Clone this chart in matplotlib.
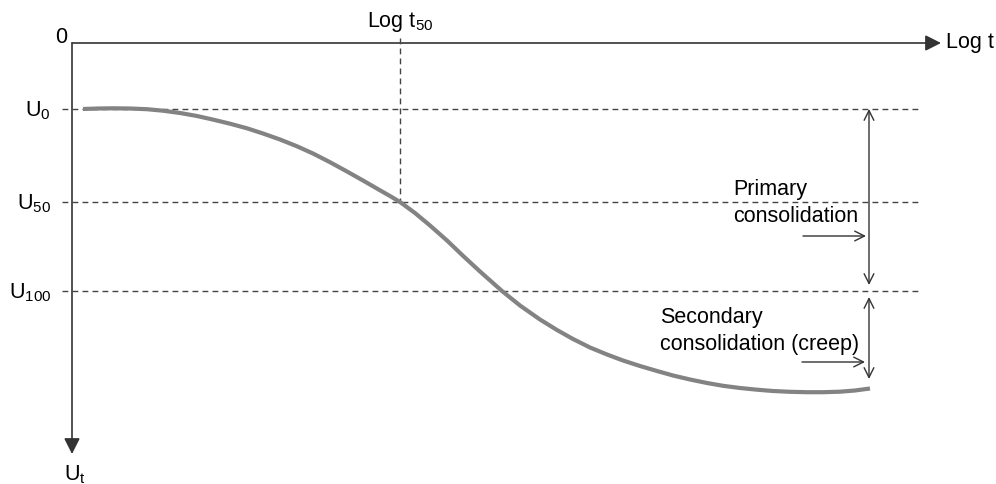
import matplotlib
matplotlib.use("Agg")
import matplotlib.pyplot as plt
from matplotlib.patches import FancyArrowPatch

plt.rcParams["font.family"] = ["Liberation Sans", "DejaVu Sans"]
plt.rcParams["mathtext.fontset"] = "custom"
plt.rcParams["mathtext.rm"] = "Liberation Sans"
plt.rcParams["mathtext.it"] = "Liberation Sans"

# Diagram coordinates: log t to the right, settlement U downward from the origin
log_t = [11, 26, 41, 58, 75, 91, 108, 125, 141, 158, 175, 191, 208, 225, 241,
         258, 275, 291, 308, 318, 328, 343, 358, 375, 391, 408, 430, 448, 468,
         485, 501, 518, 535, 551, 568, 585, 601, 618, 635, 651, 668, 685, 701,
         718, 735, 751, 768, 783, 798]
settlement = [66.0, 65.5, 65.3, 65.5, 66.2, 67.7, 70.0, 73.0, 76.6, 80.7, 85.3,
              90.5, 96.5, 103.3, 110.5, 119.2, 128.5, 137.5, 147.3, 153.0, 159.0,
              170.0, 182.5, 197.5, 212.8, 228.5, 248.0, 262.5, 276.5, 287.0,
              296.0, 304.5, 311.5, 317.5, 323.0, 328.0, 332.5, 336.5, 340.0,
              342.8, 345.0, 346.7, 348.0, 348.8, 349.2, 349.2, 348.7, 347.5, 345.5]

# Reference levels
U0, U50, U100 = 66, 159, 248
level_labels = [r"$\mathregular{U_{0}}$", r"$\mathregular{U_{50}}$", r"$\mathregular{U_{100}}$"]
log_t50 = 328

x_end = 869          # end of the horizontal axis arrow
y_end = 411          # end of the vertical axis arrow
x_dash_end = 850
x_range = 797        # position of the consolidation range arrows

fig = plt.figure(figsize=(9.96, 4.85), dpi=100)
ax = fig.add_axes([0, 0, 1, 1])
ax.set_xlim(-72, 924)
ax.set_ylim(441, -44)
ax.axis("off")

axis_col = "#333333"
dash_col = "#444444"

# Axes with filled arrowheads
for (x0, y0, x1, y1) in [(0, 0, x_end, 0), (0, 0, 0, y_end)]:
    ax.add_patch(FancyArrowPatch((x0, y0), (x1, y1),
                                 arrowstyle="-|>,head_length=9.5,head_width=4.8",
                                 mutation_scale=1, color=axis_col, lw=1.2,
                                 shrinkA=0, shrinkB=0))

# Dashed reference lines
for lev in (U0, U50, U100):
    ax.plot([-10, x_dash_end], [lev, lev], color=dash_col, lw=1.0,
            dashes=(4.2, 3.0))
ax.plot([log_t50, log_t50], [-5, U50], color=dash_col, lw=1.0, dashes=(4.2, 3.0))

# Consolidation curve
ax.plot(log_t, settlement, color="#838383", lw=3.0, solid_capstyle="butt",
        solid_joinstyle="round")

# Range arrows
arrow_kw = dict(mutation_scale=1, color=axis_col, lw=1.0, shrinkA=0, shrinkB=0)
ax.add_patch(FancyArrowPatch((x_range, U0), (x_range, U100 - 6),
                             arrowstyle="<->,head_length=7,head_width=3.5", **arrow_kw))
ax.add_patch(FancyArrowPatch((x_range, U100 + 6), (x_range, 336),
                             arrowstyle="<->,head_length=7,head_width=3.5", **arrow_kw))
ax.add_patch(FancyArrowPatch((731, 193), (794, 193),
                             arrowstyle="->,head_length=7,head_width=3.5", **arrow_kw))
ax.add_patch(FancyArrowPatch((730, 319), (793, 319),
                             arrowstyle="->,head_length=7,head_width=3.5", **arrow_kw))

fs = 15.5
# Axis labels
ax.text(-5, -1, "0", fontsize=fs, ha="right", va="baseline")
ax.text(874, 4, "Log t", fontsize=fs, ha="left", va="baseline")
ax.text(2.5, 436, r"$\mathregular{U_{t}}$", fontsize=fs, ha="center", va="baseline")
ax.text(log_t50, -17, r"$\mathregular{Log\ t_{50}}$", fontsize=fs,
        ha="center", va="baseline")
for lev, lab in zip((U0, U50, U100), level_labels):
    ax.text(-21, lev + 6, lab, fontsize=fs, ha="right", va="baseline")

# Annotations
ax.text(661, 178, "Primary\nconsolidation", fontsize=fs, ha="left",
        va="baseline", linespacing=1.38)
ax.text(588, 306, "Secondary\nconsolidation (creep)", fontsize=fs, ha="left",
        va="baseline", linespacing=1.38)

fig.savefig("out.png", dpi=100)
